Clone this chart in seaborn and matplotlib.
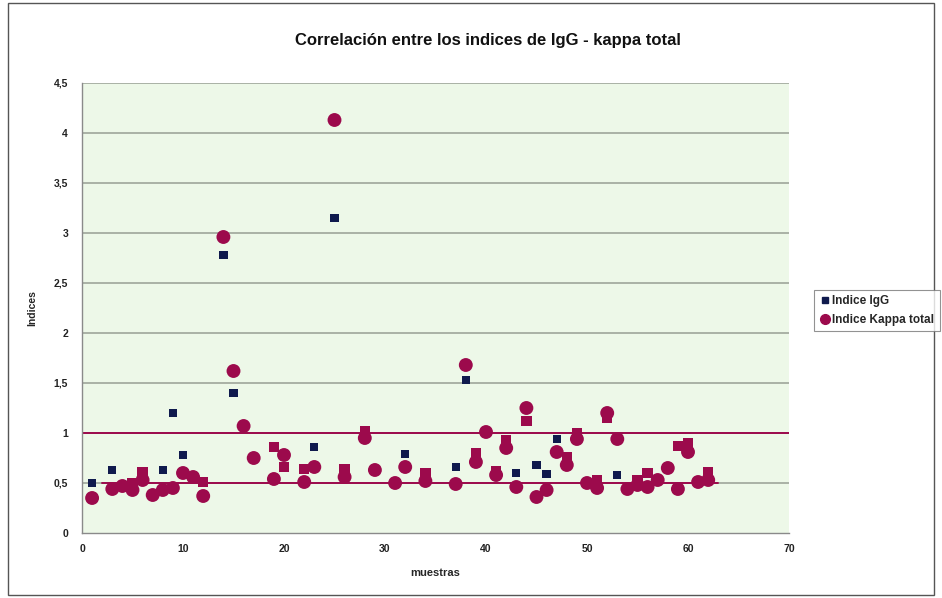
import matplotlib
matplotlib.use("Agg")
import matplotlib.pyplot as plt
import seaborn as sns
import numpy as np
import pandas as pd
from matplotlib.patches import Rectangle
from matplotlib.lines import Line2D

# --- data -------------------------------------------------------------
title = "Correlación entre los indices de IgG - kappa total"
x_label = "muestras"
y_label = "Indices"
series_names = ["Indice IgG", "Indice Kappa total"]

igg_x = [1, 3, 8, 9, 10, 14, 15, 23, 25, 32, 37, 38, 43, 45, 46, 47, 53]
igg_y = [0.50, 0.63, 0.63, 1.20, 0.78, 2.78, 1.40, 0.86, 3.15, 0.79, 0.66,
         1.53, 0.60, 0.68, 0.59, 0.94, 0.58]

kappa_x = [1, 3, 4, 5, 6, 7, 8, 9, 10, 11, 12, 14, 15, 16, 17, 19, 20, 22,
           23, 25, 26, 28, 29, 31, 32, 34, 37, 38, 39, 40, 41, 42, 43, 44,
           45, 46, 47, 48, 49, 50, 51, 52, 53, 54, 55, 56, 57, 58, 59, 60,
           61, 62]
kappa_y = [0.35, 0.44, 0.47, 0.43, 0.53, 0.38, 0.43, 0.45, 0.60, 0.56, 0.37,
           2.96, 1.62, 1.07, 0.75, 0.54, 0.78, 0.51, 0.66, 4.13, 0.56, 0.95,
           0.63, 0.50, 0.66, 0.52, 0.49, 1.68, 0.71, 1.01, 0.58, 0.85, 0.46,
           1.25, 0.36, 0.43, 0.81, 0.68, 0.94, 0.50, 0.45, 1.20, 0.94, 0.44,
           0.48, 0.46, 0.53, 0.65, 0.44, 0.81, 0.51, 0.53]

# companion kappa readings (second determination)
kappa2_x = [5, 6, 12, 19, 20, 22, 26, 28, 34, 39, 41, 42, 44, 48, 49, 51,
            52, 55, 56, 59, 60, 62]
kappa2_y = [0.50, 0.61, 0.51, 0.86, 0.66, 0.64, 0.64, 1.02, 0.60, 0.80,
            0.62, 0.93, 1.12, 0.76, 1.00, 0.53, 1.15, 0.53, 0.60, 0.87,
            0.90, 0.61]

ref_levels = [0.5, 1.0]
ref_span = [(2, 63), (0, 70)]

x_ticks = [0, 10, 20, 30, 40, 50, 60, 70]
y_ticks = [0, 0.5, 1, 1.5, 2, 2.5, 3, 3.5, 4, 4.5]

# --- style ------------------------------------------------------------
sns.set_theme(style="white")
plt.rcParams["font.family"] = ["Liberation Sans", "DejaVu Sans"]

NAVY = "#0f1a4d"
CRIMSON = "#9c0a4c"
PLOT_BG = "#edf8e8"
GRID = "#9ea69a"

fig = plt.figure(figsize=(9.42, 5.98), dpi=100)
fig.patch.set_facecolor("white")
ax = fig.add_axes([82 / 942, 1 - 533 / 598, (789 - 82) / 942, (533 - 83) / 598])
ax.set_facecolor(PLOT_BG)

ax.set_xlim(0, 70)
ax.set_ylim(0, 4.5)

# gridlines every 0.5
for yv in y_ticks[1:]:
    ax.axhline(yv, color=GRID, lw=1.2, zorder=1)

# reference levels
for lvl, (x0, x1) in zip(ref_levels, ref_span):
    ax.axhline(lvl, xmin=x0 / 70, xmax=x1 / 70, color=CRIMSON, lw=1.4, zorder=2)

df_igg = pd.DataFrame({"x": igg_x, "y": igg_y})
df_k = pd.DataFrame({"x": kappa_x, "y": kappa_y})
df_k2 = pd.DataFrame({"x": kappa2_x, "y": kappa2_y})

sns.scatterplot(data=df_igg, x="x", y="y", marker="s", s=36, color=NAVY,
                edgecolor="none", ax=ax, zorder=3, legend=False)
sns.scatterplot(data=df_k2, x="x", y="y", marker="s", s=58, color=CRIMSON,
                edgecolor="none", ax=ax, zorder=4, legend=False)
sns.scatterplot(data=df_k, x="x", y="y", marker="o", s=100, color=CRIMSON,
                edgecolor="none", ax=ax, zorder=5, legend=False)

# axes
for side in ["top", "right"]:
    ax.spines[side].set_visible(False)
for side in ["left", "bottom"]:
    ax.spines[side].set_color("#8a8a8a")
    ax.spines[side].set_linewidth(1.0)

ax.set_xticks(x_ticks)
ax.set_yticks(y_ticks)
ax.set_yticklabels([("%g" % v).replace(".", ",") for v in y_ticks])
ax.tick_params(axis="both", which="major", labelsize=7.5, colors="#222222",
               length=4, width=0.8, direction="out", pad=6)
ax.tick_params(axis="x", length=0, pad=8)
ax.tick_params(axis="y", length=3, pad=7)
for lab in ax.get_xticklabels() + ax.get_yticklabels():
    lab.set_fontweight("bold")

ax.set_xlabel(x_label, fontsize=8, fontweight="bold", labelpad=10)
ax.set_ylabel(y_label, fontsize=7.5, fontweight="bold", labelpad=12)

fig.text(488 / 942, 1 - 40 / 598, title, ha="center", va="center",
         fontsize=12, fontweight="bold", color="#111111")

# legend
handles = [
    Line2D([], [], marker="s", color=NAVY, linestyle="none", markersize=5),
    Line2D([], [], marker="o", color=CRIMSON, linestyle="none", markersize=7),
]
leg = fig.legend(handles, series_names, loc="upper left",
                 bbox_to_anchor=(808 / 942, 1 - 284 / 598),
                 frameon=True, handletextpad=0.2,
                 borderpad=0.45, labelspacing=0.55, handlelength=0.9,
                 prop={"weight": "bold", "size": 8.5})
leg.get_frame().set_edgecolor("#777777")
leg.get_frame().set_linewidth(0.8)
leg.get_frame().set_boxstyle("square", pad=0)

# chart border
fig.patches.append(Rectangle((8 / 942, 3 / 598), 926 / 942, 592 / 598,
                             transform=fig.transFigure, fill=False,
                             edgecolor="#555555", linewidth=1.0))

fig.savefig("out.png", dpi=100)
